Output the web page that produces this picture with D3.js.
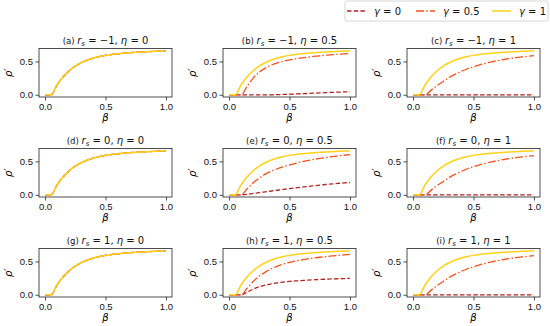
<!DOCTYPE html>
<html lang="en">
<head>
  <meta charset="UTF-8" />
  <title>rho' vs beta grid</title>
  <script src="https://d3js.org/d3.v7.min.js"></script>
  <style>
    body { margin: 0; padding: 0; background: white; }
    svg { display: block; font-family: "DejaVu Sans", sans-serif; }
    .tick text { font-size: 9.5px; fill: #111; }
    .title { font-size: 10px; fill: #111; }
  </style>
</head>
<body>
<svg id="chart" width="550" height="326"></svg>
<script>
  // beta grid shared by every series
  const betas = [0, 0.05, 0.1, 0.15, 0.2, 0.25, 0.3, 0.35, 0.4, 0.45, 0.5,
                 0.55, 0.6, 0.65, 0.7, 0.75, 0.8, 0.85, 0.9, 0.95, 1.0];

  // gamma = 1 (same in every panel)
  const g1 = [0, 0, 0.15, 0.27, 0.36, 0.43, 0.48, 0.52, 0.55, 0.573, 0.59,
              0.603, 0.614, 0.623, 0.63, 0.636, 0.642, 0.646, 0.65, 0.654, 0.657];

  // gamma = 0.5
  const g05_b = [0, 0, 0, 0.13, 0.25, 0.34, 0.4, 0.445, 0.478, 0.502, 0.522,
                 0.538, 0.552, 0.564, 0.575, 0.584, 0.592, 0.6, 0.606, 0.612, 0.618];
  const g05_e = [0, 0, 0, 0.09, 0.18, 0.25, 0.31, 0.355, 0.39, 0.42, 0.448,
                 0.472, 0.494, 0.513, 0.53, 0.545, 0.558, 0.57, 0.582, 0.592, 0.602];
  const g05_h = [0, 0, 0, 0.1, 0.2, 0.28, 0.34, 0.39, 0.43, 0.46, 0.485,
                 0.505, 0.522, 0.537, 0.55, 0.562, 0.572, 0.582, 0.59, 0.598, 0.605];
  const g05_eta1 = [0, 0, 0, 0.07, 0.14, 0.2, 0.26, 0.31, 0.35, 0.39, 0.42,
                    0.448, 0.472, 0.493, 0.512, 0.528, 0.543, 0.556, 0.567, 0.577, 0.586];

  // gamma = 0
  const g0_b = [0, 0, 0, 0, 0, 0, 0, 0, 0.002, 0.005, 0.008,
                0.012, 0.016, 0.02, 0.024, 0.028, 0.032, 0.036, 0.04, 0.043, 0.046];
  const g0_e = [0, 0, 0, 0.008, 0.02, 0.033, 0.045, 0.057, 0.068, 0.08, 0.092,
                0.103, 0.114, 0.125, 0.135, 0.145, 0.154, 0.162, 0.17, 0.177, 0.184];
  const g0_h = [0, 0, 0, 0.04, 0.085, 0.12, 0.145, 0.165, 0.18, 0.191, 0.2,
                0.207, 0.213, 0.219, 0.224, 0.229, 0.233, 0.237, 0.24, 0.243, 0.246];
  const g0_zero = betas.map(() => 0);

  const panelLetters = ["a", "b", "c", "d", "e", "f", "g", "h", "i"];
  const rsValues = ["\u22121", "\u22121", "\u22121", "0", "0", "0", "1", "1", "1"];
  const etaValues = ["0", "0.5", "1", "0", "0.5", "1", "0", "0.5", "1"];

  // series per panel: [gamma0, gamma0.5, gamma1]
  const panelSeries = [
    [g1, g1, g1], [g0_b, g05_b, g1], [g0_zero, g05_eta1, g1],
    [g1, g1, g1], [g0_e, g05_e, g1], [g0_zero, g05_eta1, g1],
    [g1, g1, g1], [g0_h, g05_h, g1], [g0_zero, g05_eta1, g1]
  ];

  const legendLabels = ["0", "0.5", "1"];
  const colors = ["#b22222", "#f4511e", "#ffd21a"];
  const dashes = ["4.5,2.2", "8,2.2,1.5,2.2", null];
  const widths = [1.3, 1.3, 1.5];

  const xTicks = [0, 0.5, 1];
  const yTicks = [0, 0.5];

  const colLeft = [39, 223, 407];
  const rowTop = [48.5, 148.5, 248.5];
  const pw = 133, ph = 48.5;

  const svg = d3.select("#chart");

  panelLetters.forEach((letter, i) => {
    const col = i % 3, row = Math.floor(i / 3);
    const g = svg.append("g").attr("transform", `translate(${colLeft[col]},${rowTop[row]})`);

    const x = d3.scaleLinear().domain([-0.05, 1.05]).range([0, pw]);
    const y = d3.scaleLinear().domain([-0.033, 0.693]).range([ph, 0]);

    const line = d3.line()
      .x((d, k) => x(betas[k]))
      .y(d => y(d))
      .curve(d3.curveMonotoneX);

    panelSeries[i].forEach((vals, s) => {
      g.append("path")
        .datum(vals)
        .attr("d", line)
        .attr("fill", "none")
        .attr("stroke", colors[s])
        .attr("stroke-width", widths[s])
        .attr("stroke-dasharray", dashes[s]);
    });

    // frame
    g.append("rect")
      .attr("width", pw).attr("height", ph)
      .attr("fill", "none").attr("stroke", "#222").attr("stroke-width", 0.8);

    const xa = g.append("g").attr("transform", `translate(0,${ph})`)
      .call(d3.axisBottom(x).tickValues(xTicks).tickFormat(d3.format(".1f")).tickSizeOuter(0).tickSize(3.5).tickPadding(2.5));
    const ya = g.append("g")
      .call(d3.axisLeft(y).tickValues(yTicks).tickFormat(d3.format(".1f")).tickSizeOuter(0).tickSize(3.5).tickPadding(2.5));
    [xa, ya].forEach(a => {
      a.select(".domain").remove();
      a.selectAll(".tick line").attr("stroke", "#222").attr("stroke-width", 0.8);
    });

    // axis labels
    g.append("text")
      .attr("x", pw / 2).attr("y", ph + 24)
      .attr("text-anchor", "middle")
      .attr("font-size", 10).attr("font-style", "italic")
      .text("\u03b2");
    g.append("text")
      .attr("transform", `translate(${-27},${ph / 2}) rotate(-90)`)
      .attr("text-anchor", "middle")
      .attr("font-size", 10).attr("font-style", "italic")
      .text("\u03c1\u2032");

    // title
    const t = g.append("text").attr("class", "title")
      .attr("x", pw / 2).attr("y", -5).attr("text-anchor", "middle");
    t.append("tspan").attr("font-size", 8.5).text(`(${letter})  `);
    t.append("tspan").attr("font-style", "italic").text("r");
    t.append("tspan").attr("font-style", "italic").attr("font-size", 7).attr("dy", 2).text("s");
    t.append("tspan").attr("dy", -2).text(` = ${rsValues[i]}, `);
    t.append("tspan").attr("font-style", "italic").text("\u03b7");
    t.append("tspan").text(` = ${etaValues[i]}`);
  });

  // legend
  const lg = svg.append("g").attr("transform", "translate(345,1)");
  lg.append("rect")
    .attr("width", 203).attr("height", 20).attr("rx", 2)
    .attr("fill", "white").attr("stroke", "#ccc").attr("stroke-width", 0.8);
  const itemX = [2, 71, 147];
  legendLabels.forEach((lab, s) => {
    lg.append("line")
      .attr("x1", itemX[s]).attr("x2", itemX[s] + 19)
      .attr("y1", 10).attr("y2", 10)
      .attr("stroke", colors[s]).attr("stroke-width", widths[s])
      .attr("stroke-dasharray", dashes[s]);
    const tx = lg.append("text")
      .attr("x", itemX[s] + 27).attr("y", 13.5)
      .attr("font-size", 10).attr("fill", "#111");
    tx.append("tspan").attr("font-style", "italic").text("\u03b3");
    tx.append("tspan").text(` = ${lab}`);
  });
</script>
</body>
</html>
